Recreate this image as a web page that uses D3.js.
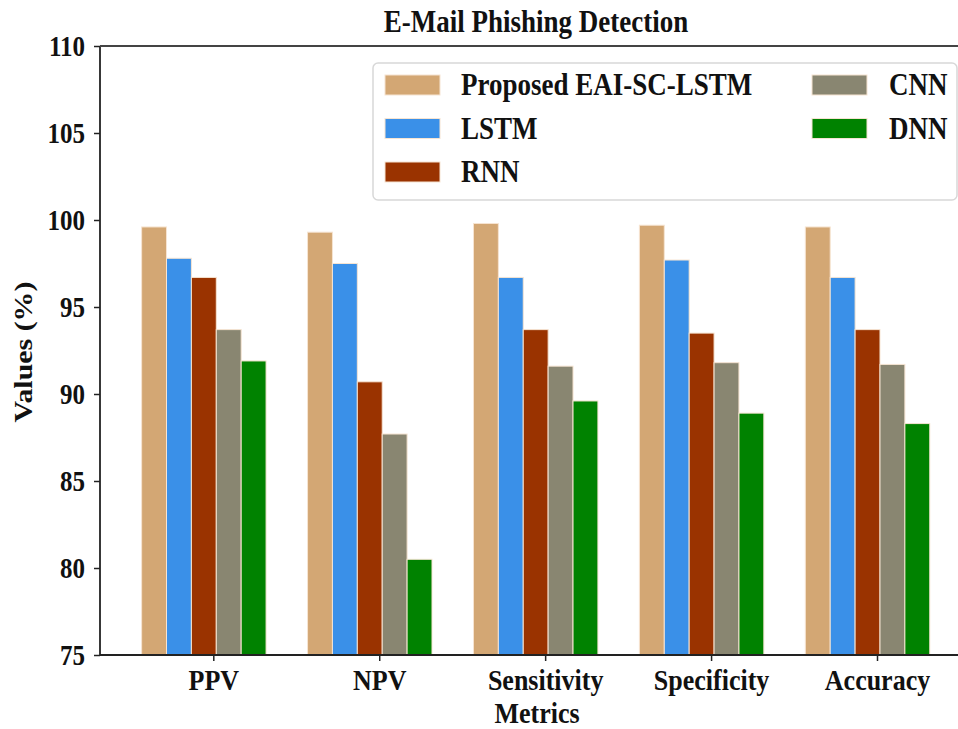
<!DOCTYPE html>
<html>
<head>
<meta charset="utf-8">
<script src="https://cdn.jsdelivr.net/npm/d3@7"></script>
<style>
  html, body { margin: 0; padding: 0; background: #fff; }
  svg { display: block; }
</style>
</head>
<body>
<svg id="chart" width="958" height="729"></svg>
<script>
// Metric categories along the x axis
const categories = ["PPV", "NPV", "Sensitivity", "Specificity", "Accuracy"];

// Model names (legend order)
const models = ["Proposed EAI-SC-LSTM", "LSTM", "RNN", "CNN", "DNN"];

// Scores (%) for each model, one value per metric
const proposedValues = [99.6, 99.3, 99.8, 99.7, 99.6];
const lstmValues     = [97.8, 97.5, 96.7, 97.7, 96.7];
const rnnValues      = [96.7, 90.7, 93.7, 93.5, 93.7];
const cnnValues      = [93.7, 87.7, 91.6, 91.8, 91.7];
const dnnValues      = [91.9, 80.5, 89.6, 88.9, 88.3];

// Y axis tick values
const yTicks = [75, 80, 85, 90, 95, 100, 105, 110];

const colors = ["#d3a774", "#3a90e8", "#9a3300", "#898671", "#008200"];
const seriesValues = [proposedValues, lstmValues, rnnValues, cnnValues, dnnValues];

const FONT = "'Liberation Serif', 'Times New Roman', serif";
const svg = d3.select("#chart");
const STRETCH = 1.15;            // vertical stretch applied to all text
const plotLeft = 100, plotTop = 46, plotBottom = 655, plotRight = 975;
const barW = 0.15;               // bar width in category units
const groupShift = -2.88;        // first bar's left edge, in bar widths from the tick

const x = d3.scaleLinear().domain([0, 4]).range([213.3, 877]);
const y = d3.scaleLinear().domain([75, 110]).range([plotBottom, plotTop]);

function styleText(sel, size) {
  return sel.style("font-family", FONT).style("font-weight", "bold")
    .style("font-size", size + "px").style("fill", "#111");
}

// Bars
const rows = [];
seriesValues.forEach((vals, s) => {
  vals.forEach((v, i) => rows.push({ s, i, v }));
});
svg.append("g").selectAll("rect").data(rows).join("rect")
  .attr("x", d => x(d.i + (d.s + groupShift) * barW))
  .attr("width", d => x(d.i + (d.s + groupShift + 1) * barW) - x(d.i + (d.s + groupShift) * barW))
  .attr("y", d => y(d.v))
  .attr("height", d => y(75) - y(d.v))
  .attr("fill", d => colors[d.s])
  .attr("stroke", "#f6e4d2")
  .attr("stroke-width", 1);

// Axes
const yAxis = d3.axisLeft(y).tickValues(yTicks).tickSize(6).tickFormat(d3.format("d"));
const gy = svg.append("g").attr("transform", `translate(${plotLeft},0)`).call(yAxis);
gy.select(".domain").remove();
gy.selectAll(".tick line").attr("stroke", "#222").attr("stroke-width", 1.5);
gy.selectAll(".tick text").remove();
styleText(gy.selectAll(".tick").append("text"), 25)
  .attr("transform", `translate(-15,9.5) scale(1,${STRETCH})`)
  .attr("text-anchor", "end")
  .text(d => d);

const xAxis = d3.axisBottom(x).tickValues(d3.range(categories.length)).tickSize(6).tickFormat(i => categories[i]);
const gx = svg.append("g").attr("transform", `translate(0,${plotBottom})`).call(xAxis);
gx.select(".domain").remove();
gx.selectAll(".tick line").attr("stroke", "#222").attr("stroke-width", 1.5);
gx.selectAll(".tick text").remove();
styleText(gx.selectAll(".tick").append("text"), 26)
  .attr("transform", `translate(0,35) scale(1,${STRETCH})`)
  .attr("text-anchor", "middle")
  .text(i => categories[i]);

// Spines
const spine = svg.append("g").attr("stroke", "#222").attr("stroke-width", 1.8);
spine.append("line").attr("x1", plotLeft).attr("x2", plotLeft).attr("y1", plotTop).attr("y2", plotBottom);
spine.append("line").attr("x1", plotLeft).attr("x2", plotRight).attr("y1", plotBottom).attr("y2", plotBottom);
spine.append("line").attr("x1", plotLeft).attr("x2", plotRight).attr("y1", plotTop).attr("y2", plotTop).attr("stroke", "#444");

// Title and axis labels
styleText(svg.append("text"), 27)
  .attr("transform", `translate(536,32) scale(1,${STRETCH})`)
  .attr("text-anchor", "middle")
  .text("E-Mail Phishing Detection");

styleText(svg.append("text"), 26)
  .attr("transform", `translate(537,723) scale(1,${STRETCH})`)
  .attr("text-anchor", "middle")
  .text("Metrics");

styleText(svg.append("text"), 26)
  .attr("transform", `translate(32,352) rotate(-90) scale(${STRETCH},1)`)
  .attr("text-anchor", "middle")
  .text("Values (%)");

// Legend
const legend = svg.append("g");
legend.append("rect")
  .attr("x", 373).attr("y", 63).attr("width", 584).attr("height", 137)
  .attr("rx", 5).attr("fill", "#fff").attr("fill-opacity", 0.9)
  .attr("stroke", "#d8d8d8").attr("stroke-width", 1.5);

const legendPos = models.map((m, k) => {
  const col = k < 3 ? 0 : 1;
  const row = k < 3 ? k : k - 3;
  return { m, k, sx: col === 0 ? 385 : 812, tx: col === 0 ? 461 : 889, cy: 85 + row * 43.5 };
});
const items = legend.selectAll("g.item").data(legendPos).join("g").attr("class", "item");
items.append("rect")
  .attr("x", d => d.sx).attr("y", d => d.cy - 10)
  .attr("width", 55).attr("height", 20)
  .attr("fill", d => colors[d.k])
  .attr("stroke", "#f6e4d2").attr("stroke-width", 1);
styleText(items.append("text"), 27)
  .attr("transform", d => `translate(${d.tx},${d.cy + 10}) scale(1,${STRETCH})`)
  .text(d => d.m);
</script>
</body>
</html>
